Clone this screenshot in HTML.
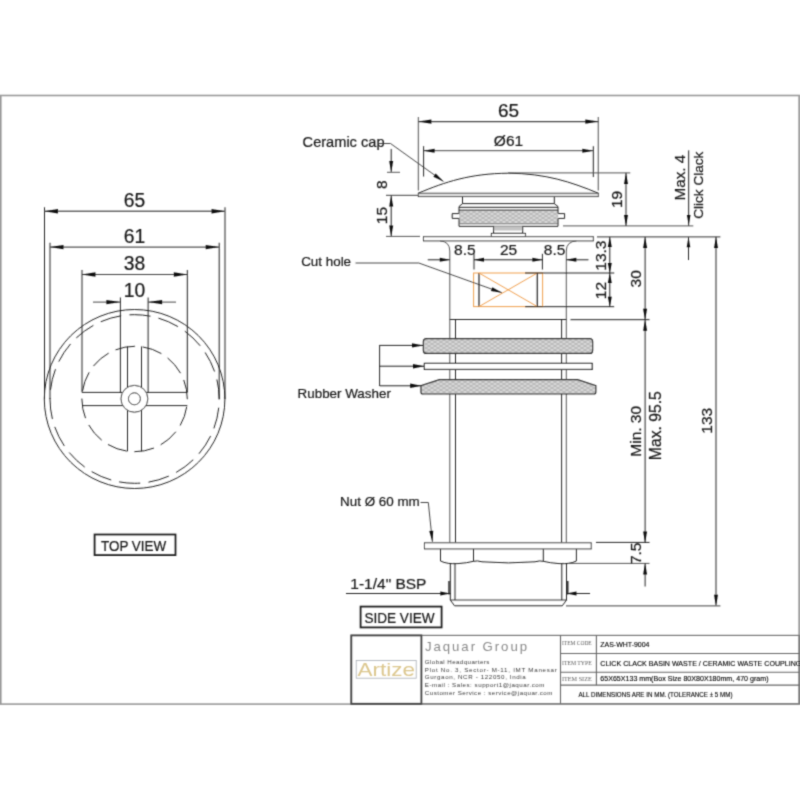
<!DOCTYPE html>
<html><head><meta charset="utf-8"><title>Drawing</title>
<style>
html,body{margin:0;padding:0;background:#fff;}
body{width:800px;height:800px;overflow:hidden;font-family:"Liberation Sans",sans-serif;}
svg{display:block;}
</style></head>
<body>
<svg width="800" height="800" viewBox="0 0 800 800">
<defs><filter id="bl" x="0" y="0" width="800" height="800" filterUnits="userSpaceOnUse"><feConvolveMatrix order="3" kernelMatrix="1 4 1 4 16 4 1 4 1" divisor="36"/></filter><pattern id="wg" x="0" y="0" width="6" height="4" patternUnits="userSpaceOnUse"><rect width="6" height="4" fill="#d6d6d6"/><path d="M0,0 L3,2 L6,0 M0,4 L3,2 L6,4" stroke="#a8a8a8" stroke-width="0.7" fill="none"/></pattern></defs>
<rect x="0" y="0" width="800" height="800" fill="#fff"/>
<g filter="url(#bl)">
<rect x="0.8" y="95.5" width="798.3" height="608.6" fill="none" stroke="#9a9a9a" stroke-width="1.60"/>
<ellipse cx="134.6" cy="399.0" rx="90.3" ry="89.5" fill="none" stroke="#222" stroke-width="1.00"/>
<ellipse cx="134.6" cy="399.0" rx="84.6" ry="84.3" fill="none" stroke="#222" stroke-width="1.00" stroke-dasharray="21.2 8.28" stroke-dashoffset="20.65"/>
<circle cx="134.6" cy="399.0" r="52.7" fill="none" stroke="#222" stroke-width="1.00" stroke-dasharray="20 7.58" stroke-dashoffset="19.8"/>
<circle cx="134.4" cy="398.8" r="13.4" fill="#fff" stroke="#222" stroke-width="1.00"/>
<circle cx="134.4" cy="398.8" r="6" fill="none" stroke="#222" stroke-width="1.00"/>
<line x1="82.0" y1="392.4" x2="122.62714987779087" y2="392.4" stroke="#222" stroke-width="1.00"/>
<line x1="146.17285012220913" y1="392.4" x2="187.3" y2="392.4" stroke="#222" stroke-width="1.00"/>
<line x1="82.0" y1="405.6" x2="122.85357198091117" y2="405.6" stroke="#222" stroke-width="1.00"/>
<line x1="145.94642801908884" y1="405.6" x2="187.3" y2="405.6" stroke="#222" stroke-width="1.00"/>
<line x1="127.5" y1="346.5" x2="127.5" y2="387.3130508837203" stroke="#222" stroke-width="1.00"/>
<line x1="127.5" y1="410.28694911627974" x2="127.5" y2="451.3" stroke="#222" stroke-width="1.00"/>
<line x1="141.5" y1="346.5" x2="141.5" y2="387.4355818450745" stroke="#222" stroke-width="1.00"/>
<line x1="141.5" y1="410.1644181549255" x2="141.5" y2="451.3" stroke="#222" stroke-width="1.00"/>
<line x1="44.5" y1="207.3" x2="44.5" y2="399" stroke="#222" stroke-width="1.00"/>
<line x1="225.0" y1="207.3" x2="225.0" y2="399" stroke="#222" stroke-width="1.00"/>
<line x1="50.0" y1="242.8" x2="50.0" y2="399" stroke="#222" stroke-width="1.00"/>
<line x1="219.2" y1="242.8" x2="219.2" y2="399" stroke="#222" stroke-width="1.00"/>
<line x1="82.0" y1="270.0" x2="82.0" y2="392.4" stroke="#222" stroke-width="1.00"/>
<line x1="187.3" y1="270.0" x2="187.3" y2="392.4" stroke="#222" stroke-width="1.00"/>
<line x1="120.4" y1="297.5" x2="120.4" y2="392.4" stroke="#222" stroke-width="1.00"/>
<line x1="148.1" y1="297.5" x2="148.1" y2="392.4" stroke="#222" stroke-width="1.00"/>
<line x1="44.5" y1="211.3" x2="225.0" y2="211.3" stroke="#666" stroke-width="1.60"/>
<path d="M44.50,211.30 L58.00,209.10 L58.00,213.50 Z" fill="#111"/>
<path d="M225.00,211.30 L211.50,213.50 L211.50,209.10 Z" fill="#111"/>
<line x1="50.0" y1="247.1" x2="219.2" y2="247.1" stroke="#555" stroke-width="1.40"/>
<path d="M50.00,247.10 L63.50,244.90 L63.50,249.30 Z" fill="#111"/>
<path d="M219.20,247.10 L205.70,249.30 L205.70,244.90 Z" fill="#111"/>
<line x1="82.0" y1="274.5" x2="187.3" y2="274.5" stroke="#444" stroke-width="1.20"/>
<path d="M82.00,274.50 L95.50,272.30 L95.50,276.70 Z" fill="#111"/>
<path d="M187.30,274.50 L173.80,276.70 L173.80,272.30 Z" fill="#111"/>
<line x1="93.0" y1="302.1" x2="120.4" y2="302.1" stroke="#444" stroke-width="1.00"/>
<line x1="148.1" y1="302.1" x2="176.0" y2="302.1" stroke="#444" stroke-width="1.00"/>
<path d="M120.40,302.10 L106.40,304.30 L106.40,299.90 Z" fill="#111"/>
<path d="M148.10,302.10 L162.10,299.90 L162.10,304.30 Z" fill="#111"/>
<text x="134.6" y="206.5" font-size="19.3" text-anchor="middle" fill="#1a1a1a" font-family="Liberation Sans" stroke="#1a1a1a" stroke-width="0.22">65</text>
<text x="134.6" y="243.3" font-size="19.3" text-anchor="middle" fill="#1a1a1a" font-family="Liberation Sans" stroke="#1a1a1a" stroke-width="0.22">61</text>
<text x="134.6" y="269.8" font-size="19.3" text-anchor="middle" fill="#1a1a1a" font-family="Liberation Sans" stroke="#1a1a1a" stroke-width="0.22">38</text>
<text x="134.6" y="296.6" font-size="19.3" text-anchor="middle" fill="#1a1a1a" font-family="Liberation Sans" stroke="#1a1a1a" stroke-width="0.22">10</text>
<rect x="94.6" y="534.5" width="80.9" height="20.6" fill="none" stroke="#222" stroke-width="1.80"/>
<text x="101.0" y="550.5" font-size="13.9" text-anchor="start" fill="#1a1a1a" font-family="Liberation Sans" stroke="#1a1a1a" stroke-width="0.22" textLength="65.2" lengthAdjust="spacingAndGlyphs">TOP VIEW</text>
<path d="M418.3,193.2 C445,182 470,173.5 508.3,173.2 C546,173.5 571,182 598.3,193.2" stroke="#222" stroke-width="1.00" fill="none"/>
<rect x="418.3" y="193.2" width="180" height="3.4" fill="#ddd" stroke="#333" stroke-width="0.90"/>
<path d="M462.5,196.6 L462.5,203.6 L554.3,203.6 L554.3,196.6" stroke="#222" stroke-width="1.00" fill="none"/>
<rect x="459" y="210.1" width="99.2" height="14" fill="url(#wg)" stroke="none"/>
<path d="M462.5,203.6 L459,206.6 L459,213.6 L452.2,213.6 L452.2,218.4 L459,218.4 L459,226.3 L558,226.3 L558,218.4 L564.6,218.4 L564.6,213.6 L558,213.6 L558,206.6 L554.3,203.6" stroke="#222" stroke-width="1.00" fill="none"/>
<line x1="459" y1="207.3" x2="558" y2="207.3" stroke="#222" stroke-width="1.00"/>
<line x1="459" y1="210.1" x2="558" y2="210.1" stroke="#222" stroke-width="1.00"/>
<line x1="459" y1="223.8" x2="558" y2="223.8" stroke="#666" stroke-width="0.80"/>
<rect x="493.6" y="226.3" width="29.1" height="4.2" fill="#c4c4c4"/>
<path d="M493.6,226.3 L493.6,233.4 L522.7,233.4 L522.7,226.3" stroke="#222" stroke-width="1.00" fill="none"/>
<rect x="491.4" y="233.4" width="34" height="3.3" fill="#fff" stroke="#222" stroke-width="1.00"/>
<rect x="423.5" y="236.7" width="169.8" height="4.2" fill="#fff" stroke="#333" stroke-width="1.00"/>
<path d="M440,240.9 Q449.8,241.5 449.8,251 L449.8,542.8" stroke="#555" stroke-width="1.00" fill="none"/>
<path d="M576.5,240.9 Q566.3,241.5 566.3,251 L566.3,542.8" stroke="#555" stroke-width="1.00" fill="none"/>
<line x1="449.8" y1="319.5" x2="566.3" y2="319.5" stroke="#222" stroke-width="1.00"/>
<line x1="455.5" y1="319.5" x2="455.5" y2="542.8" stroke="#222" stroke-width="1.00"/>
<line x1="561.6" y1="319.5" x2="561.6" y2="542.8" stroke="#222" stroke-width="1.00"/>
<rect x="473.6" y="273" width="69" height="33.6" fill="none" stroke="#f0a050" stroke-width="1.00"/>
<line x1="479.0" y1="273" x2="479.0" y2="306.6" stroke="#333" stroke-width="1.30"/>
<line x1="537.3" y1="273" x2="537.3" y2="306.6" stroke="#333" stroke-width="1.30"/>
<line x1="479.0" y1="273" x2="537.3" y2="306.6" stroke="#f0a050" stroke-width="1.00"/>
<line x1="537.3" y1="273" x2="479.0" y2="306.6" stroke="#f0a050" stroke-width="1.00"/>
<rect x="423.4" y="338.6" width="169.2" height="14.8" rx="3" fill="url(#wg)" stroke="#222" stroke-width="1.20"/>
<rect x="424.4" y="363.4" width="167.8" height="6" fill="#fff" stroke="#222" stroke-width="1.20"/>
<path d="M439.5,379.6 L577.5,379.6 L595.8,385.6 L595.8,392 Q595.8,394 593.8,394 L423,394 Q421,394 421,392 L421,385.6 Z" stroke="#222" stroke-width="1.20" fill="url(#wg)"/>
<rect x="424.5" y="542.8" width="166.7" height="6.1" fill="#fff" stroke="#333" stroke-width="1.00"/>
<path d="M440.5,548.9 L440.5,561 Q447,564.3 458,563.6 Q467,563 473.5,561.3 Q477,560.3 482,561.8 Q508.4,564.0 535,561.8 Q540,560.3 543.3,561.3 Q550,563 559,563.6 Q570,564.3 576.4,561 L576.4,548.9" stroke="#222" stroke-width="1.00" fill="none"/>
<line x1="473.5" y1="548.9" x2="473.5" y2="561.3" stroke="#222" stroke-width="1.00"/>
<line x1="543.3" y1="548.9" x2="543.3" y2="561.3" stroke="#222" stroke-width="1.00"/>
<path d="M450.3,563.5 L450.3,600 L454.5,605.8 L562.3,605.8 L566.5,600 L566.5,563.5" stroke="#222" stroke-width="1.00" fill="none"/>
<line x1="455.0" y1="563.8" x2="455.0" y2="600" stroke="#222" stroke-width="1.00"/>
<line x1="561.8" y1="563.8" x2="561.8" y2="600" stroke="#222" stroke-width="1.00"/>
<line x1="450.3" y1="600" x2="566.5" y2="600" stroke="#222" stroke-width="0.90"/>
<line x1="449.0" y1="581" x2="449.0" y2="594.5" stroke="#222" stroke-width="1.40"/>
<line x1="567.8" y1="581" x2="567.8" y2="594.5" stroke="#222" stroke-width="1.40"/>
<line x1="418.4" y1="117" x2="418.4" y2="190.5" stroke="#777" stroke-width="1.30"/>
<line x1="598.3" y1="117" x2="598.3" y2="190.5" stroke="#777" stroke-width="1.30"/>
<line x1="418.4" y1="121.6" x2="598.3" y2="121.6" stroke="#444" stroke-width="1.10"/>
<path d="M418.40,121.60 L431.40,119.40 L431.40,123.80 Z" fill="#111"/>
<path d="M598.30,121.60 L585.30,123.80 L585.30,119.40 Z" fill="#111"/>
<text x="508.5" y="117.1" font-size="19" text-anchor="middle" fill="#1a1a1a" font-family="Liberation Sans" stroke="#1a1a1a" stroke-width="0.22">65</text>
<line x1="423.6" y1="146.2" x2="423.6" y2="176.5" stroke="#222" stroke-width="1.00"/>
<line x1="593.3" y1="146.2" x2="593.3" y2="177" stroke="#222" stroke-width="1.00"/>
<line x1="423.6" y1="150.7" x2="593.3" y2="150.7" stroke="#444" stroke-width="1.00"/>
<path d="M423.60,150.70 L434.60,148.70 L434.60,152.70 Z" fill="#111"/>
<path d="M593.30,150.70 L582.30,152.70 L582.30,148.70 Z" fill="#111"/>
<text x="508.5" y="145.5" font-size="15.5" text-anchor="middle" fill="#1a1a1a" font-family="Liberation Sans" stroke="#1a1a1a" stroke-width="0.22">&#216;61</text>
<text x="302.6" y="146.8" font-size="14.6" text-anchor="start" fill="#1a1a1a" font-family="Liberation Sans" stroke="#1a1a1a" stroke-width="0.22">Ceramic cap</text>
<path d="M379,143.5 L390.5,143.5 L443.5,181.5" stroke="#333" stroke-width="0.90" fill="none"/>
<path d="M443.50,181.50 L433.39,176.72 L435.73,173.47 Z" fill="#111"/>
<line x1="391.2" y1="149" x2="391.2" y2="172" stroke="#222" stroke-width="1.00"/>
<path d="M391.20,172.00 L389.20,161.00 L393.20,161.00 Z" fill="#111"/>
<line x1="387" y1="172.3" x2="400" y2="172.3" stroke="#555" stroke-width="1.00"/>
<line x1="386" y1="195.4" x2="418.4" y2="195.4" stroke="#666" stroke-width="1.20"/>
<line x1="391.2" y1="195.4" x2="391.2" y2="236.4" stroke="#222" stroke-width="1.00"/>
<path d="M391.20,195.40 L393.20,206.40 L389.20,206.40 Z" fill="#111"/>
<path d="M391.20,236.40 L389.20,225.40 L393.20,225.40 Z" fill="#111"/>
<line x1="386" y1="236.4" x2="420" y2="236.4" stroke="#555" stroke-width="1.00"/>
<text transform="translate(387.3,184.6) rotate(-90)" x="0" y="0" font-size="15.5" text-anchor="middle" fill="#1a1a1a" font-family="Liberation Sans" stroke="#1a1a1a" stroke-width="0.22">8</text>
<text transform="translate(387.3,215.6) rotate(-90)" x="0" y="0" font-size="15.5" text-anchor="middle" fill="#1a1a1a" font-family="Liberation Sans" stroke="#1a1a1a" stroke-width="0.22">15</text>
<line x1="508" y1="172.9" x2="630.3" y2="172.9" stroke="#555" stroke-width="1.00"/>
<line x1="563" y1="225.9" x2="693.3" y2="225.9" stroke="#777" stroke-width="1.40"/>
<line x1="626.0" y1="172.9" x2="626.0" y2="225.9" stroke="#222" stroke-width="1.00"/>
<path d="M626.00,172.90 L628.00,183.90 L624.00,183.90 Z" fill="#111"/>
<path d="M626.00,225.90 L624.00,214.90 L628.00,214.90 Z" fill="#111"/>
<text transform="translate(621.8,199.4) rotate(-90)" x="0" y="0" font-size="15.5" text-anchor="middle" fill="#1a1a1a" font-family="Liberation Sans" stroke="#1a1a1a" stroke-width="0.22">19</text>
<line x1="688.7" y1="150.4" x2="688.7" y2="225.9" stroke="#222" stroke-width="1.00"/>
<path d="M688.70,225.00 L686.90,215.00 L690.50,215.00 Z" fill="#111"/>
<text transform="translate(684.8,177.6) rotate(-90)" x="0" y="0" font-size="15.3" text-anchor="middle" fill="#1a1a1a" font-family="Liberation Sans" stroke="#1a1a1a" stroke-width="0.22">Max. 4</text>
<line x1="688.5" y1="237.2" x2="688.5" y2="260.0" stroke="#222" stroke-width="1.00"/>
<path d="M688.50,237.20 L690.30,247.20 L686.70,247.20 Z" fill="#111"/>
<text transform="translate(703.3,185.2) rotate(-90)" x="0" y="0" font-size="13.6" text-anchor="middle" fill="#1a1a1a" font-family="Liberation Sans" stroke="#1a1a1a" stroke-width="0.22">Click Clack</text>
<line x1="597" y1="236.9" x2="720.4" y2="236.9" stroke="#333" stroke-width="1.00"/>
<line x1="427.8" y1="259.8" x2="449.8" y2="259.8" stroke="#222" stroke-width="1.00"/>
<path d="M449.80,259.80 L439.80,261.80 L439.80,257.80 Z" fill="#111"/>
<line x1="566.3" y1="259.8" x2="588.5" y2="259.8" stroke="#222" stroke-width="1.00"/>
<path d="M566.30,259.80 L576.30,257.80 L576.30,261.80 Z" fill="#111"/>
<line x1="474.0" y1="253.8" x2="474.0" y2="269.5" stroke="#222" stroke-width="1.00"/>
<line x1="542.4" y1="253.8" x2="542.4" y2="269.5" stroke="#222" stroke-width="1.00"/>
<line x1="474.0" y1="259.8" x2="542.4" y2="259.8" stroke="#222" stroke-width="1.00"/>
<path d="M474.00,259.80 L484.00,257.80 L484.00,261.80 Z" fill="#111"/>
<path d="M542.40,259.80 L532.40,261.80 L532.40,257.80 Z" fill="#111"/>
<text x="464.9" y="254.6" font-size="15.5" text-anchor="middle" fill="#1a1a1a" font-family="Liberation Sans" stroke="#1a1a1a" stroke-width="0.22">8.5</text>
<text x="508.6" y="254.6" font-size="15.5" text-anchor="middle" fill="#1a1a1a" font-family="Liberation Sans" stroke="#1a1a1a" stroke-width="0.22">25</text>
<text x="554.6" y="254.6" font-size="15.5" text-anchor="middle" fill="#1a1a1a" font-family="Liberation Sans" stroke="#1a1a1a" stroke-width="0.22">8.5</text>
<text x="301.2" y="266.3" font-size="13.4" text-anchor="start" fill="#1a1a1a" font-family="Liberation Sans" stroke="#1a1a1a" stroke-width="0.22">Cut hole</text>
<path d="M355.5,263 L418.8,263 L502,292.8" stroke="#333" stroke-width="0.90" fill="none"/>
<path d="M502.00,292.80 L490.97,290.97 L492.32,287.21 Z" fill="#111"/>
<line x1="525" y1="273.0" x2="614.2" y2="273.0" stroke="#222" stroke-width="1.00"/>
<line x1="525" y1="306.7" x2="614.2" y2="306.7" stroke="#222" stroke-width="1.00"/>
<line x1="609.8" y1="236.9" x2="609.8" y2="306.7" stroke="#222" stroke-width="1.00"/>
<path d="M609.80,236.90 L611.80,246.90 L607.80,246.90 Z" fill="#111"/>
<path d="M609.80,273.00 L607.80,263.00 L611.80,263.00 Z" fill="#111"/>
<path d="M609.80,273.00 L611.80,283.00 L607.80,283.00 Z" fill="#111"/>
<path d="M609.80,306.70 L607.80,296.70 L611.80,296.70 Z" fill="#111"/>
<text transform="translate(605.9,255.6) rotate(-90)" x="0" y="0" font-size="15.5" text-anchor="middle" fill="#1a1a1a" font-family="Liberation Sans" stroke="#1a1a1a" stroke-width="0.22">13.3</text>
<text transform="translate(605.8,290.6) rotate(-90)" x="0" y="0" font-size="15.5" text-anchor="middle" fill="#1a1a1a" font-family="Liberation Sans" stroke="#1a1a1a" stroke-width="0.22">12</text>
<line x1="570.5" y1="319.7" x2="649.5" y2="319.7" stroke="#222" stroke-width="1.00"/>
<line x1="645.1" y1="236.9" x2="645.1" y2="542.4" stroke="#222" stroke-width="1.00"/>
<path d="M645.10,236.90 L647.10,247.90 L643.10,247.90 Z" fill="#111"/>
<path d="M645.10,319.70 L643.10,308.70 L647.10,308.70 Z" fill="#111"/>
<path d="M645.10,319.70 L647.10,330.70 L643.10,330.70 Z" fill="#111"/>
<path d="M645.10,542.40 L643.10,531.40 L647.10,531.40 Z" fill="#111"/>
<text transform="translate(641.0,278.8) rotate(-90)" x="0" y="0" font-size="15.5" text-anchor="middle" fill="#1a1a1a" font-family="Liberation Sans" stroke="#1a1a1a" stroke-width="0.22">30</text>
<text transform="translate(641.0,431.3) rotate(-90)" x="0" y="0" font-size="15.5" text-anchor="middle" fill="#1a1a1a" font-family="Liberation Sans" stroke="#1a1a1a" stroke-width="0.22">Min. 30</text>
<text transform="translate(661.2,425.7) rotate(-90)" x="0" y="0" font-size="15.7" text-anchor="middle" fill="#1a1a1a" font-family="Liberation Sans" stroke="#1a1a1a" stroke-width="0.22">Max. 95.5</text>
<line x1="596" y1="542.4" x2="649.5" y2="542.4" stroke="#222" stroke-width="1.00"/>
<line x1="568.5" y1="563.4" x2="649.5" y2="563.4" stroke="#555" stroke-width="1.00"/>
<line x1="645.1" y1="563.4" x2="645.1" y2="586.5" stroke="#222" stroke-width="1.00"/>
<path d="M645.10,563.40 L647.10,574.40 L643.10,574.40 Z" fill="#111"/>
<text transform="translate(640.5,553.3) rotate(-90)" x="0" y="0" font-size="15.5" text-anchor="middle" fill="#1a1a1a" font-family="Liberation Sans" stroke="#1a1a1a" stroke-width="0.22">7.5</text>
<line x1="716.0" y1="236.9" x2="716.0" y2="605.8" stroke="#222" stroke-width="1.00"/>
<path d="M716.00,236.90 L718.00,247.90 L714.00,247.90 Z" fill="#111"/>
<path d="M716.00,605.80 L714.00,594.80 L718.00,594.80 Z" fill="#111"/>
<line x1="566" y1="605.9" x2="720.4" y2="605.9" stroke="#666" stroke-width="1.30"/>
<text transform="translate(711.6,420.8) rotate(-90)" x="0" y="0" font-size="15.5" text-anchor="middle" fill="#1a1a1a" font-family="Liberation Sans" stroke="#1a1a1a" stroke-width="0.22">133</text>
<line x1="379.6" y1="345.2" x2="379.6" y2="385.9" stroke="#222" stroke-width="1.00"/>
<line x1="379.6" y1="345.4" x2="423.0" y2="345.4" stroke="#222" stroke-width="1.00"/>
<path d="M423.00,345.40 L412.00,347.60 L412.00,343.20 Z" fill="#111"/>
<line x1="379.6" y1="366.2" x2="424.0" y2="366.2" stroke="#222" stroke-width="1.00"/>
<path d="M424.00,366.20 L413.00,368.40 L413.00,364.00 Z" fill="#111"/>
<line x1="379.6" y1="385.8" x2="421.2" y2="385.8" stroke="#222" stroke-width="1.00"/>
<path d="M421.20,385.80 L410.20,388.00 L410.20,383.60 Z" fill="#111"/>
<text x="297.6" y="397.8" font-size="13.4" text-anchor="start" fill="#1a1a1a" font-family="Liberation Sans" stroke="#1a1a1a" stroke-width="0.22">Rubber Washer</text>
<text x="340.1" y="506.0" font-size="13.4" text-anchor="start" fill="#1a1a1a" font-family="Liberation Sans" stroke="#1a1a1a" stroke-width="0.22">Nut &#216; 60 mm</text>
<path d="M420.5,502.5 L428.3,502.5 L432.4,541.8" stroke="#333" stroke-width="0.90" fill="none"/>
<path d="M432.40,541.80 L429.27,531.07 L433.25,530.65 Z" fill="#111"/>
<text x="350.3" y="589.4" font-size="15.5" text-anchor="start" fill="#1a1a1a" font-family="Liberation Sans" stroke="#1a1a1a" stroke-width="0.22">1-1/4&quot; BSP</text>
<line x1="346" y1="593.5" x2="450.3" y2="593.5" stroke="#222" stroke-width="1.00"/>
<path d="M450.30,593.50 L440.30,595.50 L440.30,591.50 Z" fill="#111"/>
<line x1="566.5" y1="593.5" x2="590" y2="593.5" stroke="#222" stroke-width="1.00"/>
<path d="M566.50,593.50 L576.50,591.50 L576.50,595.50 Z" fill="#111"/>
<rect x="360.6" y="606.6" width="81" height="20.8" fill="none" stroke="#222" stroke-width="1.80"/>
<text x="364.4" y="623.1" font-size="14.3" text-anchor="start" fill="#1a1a1a" font-family="Liberation Sans" stroke="#1a1a1a" stroke-width="0.22" textLength="70.2" lengthAdjust="spacingAndGlyphs">SIDE VIEW</text>
<rect x="351.3" y="635.4" width="447.9" height="68.4" fill="none" stroke="#777" stroke-width="1.20"/>
<rect x="351.3" y="635.4" width="70.1" height="68.4" fill="none" stroke="#444" stroke-width="1.80"/>
<line x1="560.5" y1="635.4" x2="560.5" y2="703.8" stroke="#666" stroke-width="1.10"/>
<line x1="596.4" y1="635.4" x2="596.4" y2="685.1" stroke="#666" stroke-width="1.10"/>
<line x1="560.5" y1="653.5" x2="799.2" y2="653.5" stroke="#666" stroke-width="1.10"/>
<line x1="560.5" y1="672.3" x2="799.2" y2="672.3" stroke="#666" stroke-width="1.10"/>
<line x1="560.5" y1="685.1" x2="799.2" y2="685.1" stroke="#666" stroke-width="1.10"/>
<rect x="356.2" y="660.6" width="60" height="17.6" fill="none" stroke="#a8adb5" stroke-width="0.80"/>
<text x="357.6" y="676.1" font-size="19.0" text-anchor="start" fill="#dcc78e" font-family="Liberation Sans" textLength="57.4" lengthAdjust="spacingAndGlyphs">Artize</text>
<text x="425.0" y="650.8" font-size="13.2" text-anchor="start" fill="#8a8a8a" font-family="Liberation Sans" textLength="102" lengthAdjust="spacing">Jaquar Group</text>
<text x="424.8" y="664.0" font-size="6.2" text-anchor="start" fill="#3a3a3a" font-family="Liberation Sans" textLength="64.5" lengthAdjust="spacing">Global Headquarters</text>
<text x="424.8" y="671.6" font-size="6.2" text-anchor="start" fill="#3a3a3a" font-family="Liberation Sans" textLength="132" lengthAdjust="spacing">Plot No. 3, Sector- M-11, IMT Manesar</text>
<text x="424.8" y="679.4" font-size="6.2" text-anchor="start" fill="#3a3a3a" font-family="Liberation Sans" textLength="101" lengthAdjust="spacing">Gurgaon, NCR - 122050, India</text>
<text x="424.8" y="687.3" font-size="6.2" text-anchor="start" fill="#3a3a3a" font-family="Liberation Sans" textLength="119.6" lengthAdjust="spacing">E-mail : Sales: support1@jaquar.com</text>
<text x="424.8" y="695.0" font-size="6.2" text-anchor="start" fill="#3a3a3a" font-family="Liberation Sans" textLength="127.6" lengthAdjust="spacing">Customer Service : service@jaquar.com</text>
<text x="562.0" y="644.6" font-size="6.8" text-anchor="start" fill="#5a5a5a" font-family="Liberation Serif" textLength="29.7" lengthAdjust="spacingAndGlyphs">ITEM CODE</text>
<text x="562.0" y="664.9" font-size="6.8" text-anchor="start" fill="#5a5a5a" font-family="Liberation Serif" textLength="29.7" lengthAdjust="spacingAndGlyphs">ITEM TYPE</text>
<text x="562.0" y="680.8" font-size="6.8" text-anchor="start" fill="#5a5a5a" font-family="Liberation Serif" textLength="29.7" lengthAdjust="spacingAndGlyphs">ITEM SIZE</text>
<text x="600.3" y="646.6" font-size="7.0" text-anchor="start" fill="#000" font-family="Liberation Sans" stroke="#000" stroke-width="0.12" textLength="49.2" lengthAdjust="spacingAndGlyphs">ZAS-WHT-9004</text>
<text x="600.3" y="665.6" font-size="7.2" text-anchor="start" fill="#000" font-family="Liberation Sans" stroke="#000" stroke-width="0.12" textLength="201" lengthAdjust="spacingAndGlyphs">CLICK CLACK BASIN WASTE / CERAMIC WASTE COUPLING</text>
<text x="600.3" y="681.0" font-size="7.0" text-anchor="start" fill="#000" font-family="Liberation Sans" stroke="#000" stroke-width="0.12" textLength="168.2" lengthAdjust="spacingAndGlyphs">65X65X133 mm(Box Size 80X80X180mm, 470 gram)</text>
<text x="578.4" y="697.3" font-size="7.0" text-anchor="start" fill="#000" font-family="Liberation Sans" stroke="#000" stroke-width="0.12" textLength="154.1" lengthAdjust="spacingAndGlyphs">ALL DIMENSIONS ARE IN MM. (TOLERANCE &#177; 5 MM)</text>
</g>
</svg>
</body></html>
